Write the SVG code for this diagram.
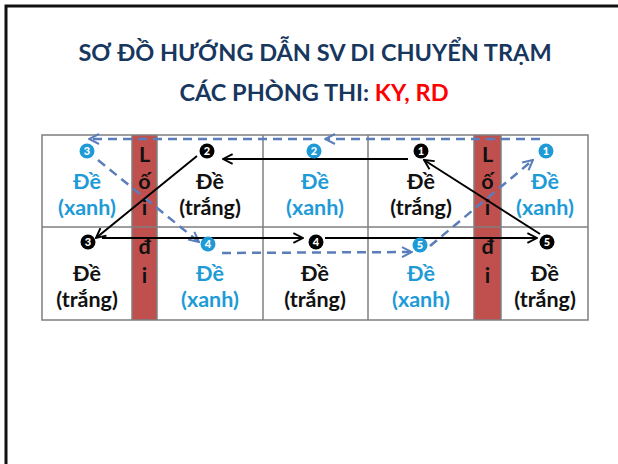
<svg xmlns="http://www.w3.org/2000/svg" width="618" height="464" viewBox="0 0 618 464">
<defs>
<style>
.t{font-family:Lato,"Liberation Sans",sans-serif;font-weight:bold;text-anchor:middle}
.title{font-size:23.5px;fill:#17375E}
.cell{font-size:21.5px}
.blue{fill:#1E9BD7}
.blk{fill:#111}
.lane{fill:#C0504D}
.grid{stroke:#7F7F7F;stroke-width:1.5;fill:none}
.num{font-size:11px;fill:#fff;font-weight:900}
.solid{stroke:#000;stroke-width:2;fill:none;marker-end:url(#ah)}
.dash{stroke:#5A7EBB;stroke-width:2.5;fill:none;stroke-dasharray:9 6;marker-end:url(#ahb)}
</style>
<marker id="ah" viewBox="0 0 10 10" refX="9" refY="5" markerWidth="6" markerHeight="6" orient="auto" markerUnits="strokeWidth">
<path d="M1,1 L9,5 L1,9" stroke="#000" stroke-width="1.6" fill="none"/>
</marker>
<marker id="ahb" viewBox="0 0 10 10" refX="9" refY="5" markerWidth="5" markerHeight="5" orient="auto" markerUnits="strokeWidth">
<path d="M1,1 L9,5 L1,9" stroke="#5A7EBB" stroke-width="1.6" fill="none"/>
</marker>
</defs>
<rect x="0" y="0" width="618" height="464" fill="#fff"/>
<path d="M6,470 L6,6 L624,6" stroke="#111" stroke-width="3" fill="none"/>
<g id="title">
<text class="t title" x="315" y="61">SƠ ĐỒ HƯỚNG DẪN SV DI CHUYỂN TRẠM</text>
<text class="t title" x="314" y="101">CÁC PHÒNG THI: <tspan fill="#FF0000">KY, RD</tspan></text>
</g>
<g id="table">
<rect class="lane" x="132" y="135" width="25" height="185"/>
<rect class="lane" x="474" y="135" width="27" height="185"/>
<rect class="grid" x="42" y="135" width="546" height="185"/>
<line class="grid" x1="42" y1="227" x2="588" y2="227" stroke="#444"/>
<line class="grid" x1="132" y1="135" x2="132" y2="320"/>
<line class="grid" x1="157" y1="135" x2="157" y2="320"/>
<line class="grid" x1="263" y1="135" x2="263" y2="320"/>
<line class="grid" x1="368" y1="135" x2="368" y2="320"/>
<line class="grid" x1="474" y1="135" x2="474" y2="320"/>
<line class="grid" x1="501" y1="135" x2="501" y2="320"/>
</g>
<g id="loi-di-1" class="t cell blk">
<text x="144.5" y="162">L</text><text x="144.5" y="189">ố</text><text x="144.5" y="215">i</text>
<text x="144.5" y="254">đ</text><text x="144.5" y="283">i</text>
</g>
<g id="loi-di-2" class="t cell blk">
<text x="487.5" y="162">L</text><text x="487.5" y="189">ố</text><text x="487.5" y="215">i</text>
<text x="487.5" y="254">đ</text><text x="487.5" y="283">i</text>
</g>
<g id="connectors">
<path class="dash" d="M540,139 L325,139"/>
<path class="dash" d="M312,139 L89,139"/>
<path class="dash" d="M98,160 L199,242"/>
<path class="dash" d="M222,253 L412,252"/>
<path class="dash" d="M430,246 L533,160"/>
<path class="solid" d="M408,159 L223,159"/>
<path class="solid" d="M540,234 L424,160"/>
<path class="solid" d="M197,156 L96,238"/>
<path class="solid" d="M102,238 L303,238"/>
<path class="solid" d="M325,238 L537,238"/>
</g>
<g id="cell-r1c1" class="t cell blue">
<circle cx="87" cy="151" r="7.5" fill="#1E9BD7"/><text class="num" x="87" y="155">3</text>
<text x="87" y="189">Đề</text><text x="87" y="215">(xanh)</text>
</g>
<g id="cell-r1c2" class="t cell blk">
<circle cx="207" cy="151" r="7.5" fill="#000"/><text class="num" x="207" y="155">2</text>
<text x="210" y="189">Đề</text><text x="210" y="215">(trắng)</text>
</g>
<g id="cell-r1c3" class="t cell blue">
<circle cx="314" cy="151" r="7.5" fill="#1E9BD7"/><text class="num" x="314" y="155">2</text>
<text x="315" y="189">Đề</text><text x="315" y="215">(xanh)</text>
</g>
<g id="cell-r1c4" class="t cell blk">
<circle cx="421" cy="151" r="7.5" fill="#000"/><text class="num" x="421" y="155">1</text>
<text x="421" y="189">Đề</text><text x="421" y="215">(trắng)</text>
</g>
<g id="cell-r1c5" class="t cell blue">
<circle cx="546" cy="151" r="7.5" fill="#1E9BD7"/><text class="num" x="546" y="155">1</text>
<text x="545" y="189">Đề</text><text x="545" y="215">(xanh)</text>
</g>
<g id="cell-r2c1" class="t cell blk">
<circle cx="88" cy="242" r="7.5" fill="#000"/><text class="num" x="88" y="246">3</text>
<text x="87" y="281">Đề</text><text x="87" y="307">(trắng)</text>
</g>
<g id="cell-r2c2" class="t cell blue">
<circle cx="208" cy="244" r="7.5" fill="#1E9BD7"/><text class="num" x="208" y="248">4</text>
<text x="210" y="281">Đề</text><text x="210" y="307">(xanh)</text>
</g>
<g id="cell-r2c3" class="t cell blk">
<circle cx="316" cy="242" r="7.5" fill="#000"/><text class="num" x="316" y="246">4</text>
<text x="315" y="281">Đề</text><text x="315" y="307">(trắng)</text>
</g>
<g id="cell-r2c4" class="t cell blue">
<circle cx="420" cy="245" r="7.5" fill="#1E9BD7"/><text class="num" x="420" y="249">5</text>
<text x="421" y="281">Đề</text><text x="421" y="307">(xanh)</text>
</g>
<g id="cell-r2c5" class="t cell blk">
<circle cx="547" cy="242" r="7.5" fill="#000"/><text class="num" x="547" y="246">5</text>
<text x="545" y="281">Đề</text><text x="545" y="307">(trắng)</text>
</g>
</svg>
